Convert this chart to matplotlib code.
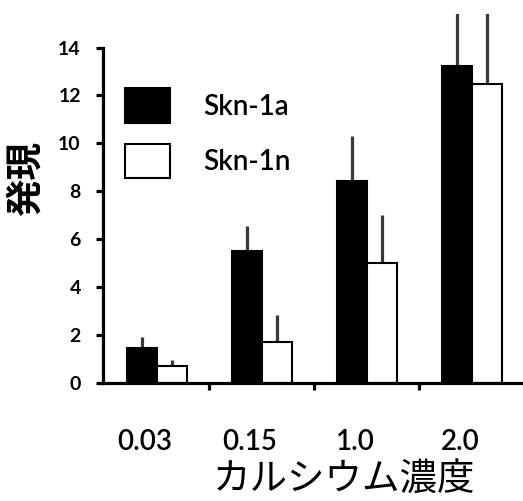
import numpy as np
import matplotlib
matplotlib.use("Agg")
import matplotlib.pyplot as plt
import matplotlib.transforms as mtransforms

plt.rcParams["font.family"] = ["Lato", "Noto Sans CJK JP", "DejaVu Sans"]

# データ
concentrations = ["0.03", "0.15", "1.0", "2.0"]
skn1a = [1.45, 5.49, 8.44, 13.22]
skn1a_err = [0.46, 1.07, 1.89, 3.0]
skn1n = [0.70, 1.73, 5.00, 12.48]
skn1n_err = [0.24, 1.11, 2.02, 4.0]
y_ticks = [0, 2, 4, 6, 8, 10, 12, 14]

fig = plt.figure(figsize=(5.23, 5.01), dpi=100)
ax = fig.add_axes([0.197, 0.2355, 0.803, 0.7365])

x = np.arange(len(concentrations))
w = 0.286
err_kw = dict(fmt="none", ecolor="#3a3a3a", elinewidth=2.3, capsize=0, zorder=1)

ax.bar(x - w / 2, skn1a, w, color="black", edgecolor="black", linewidth=1.5,
       label="Skn-1a", zorder=2)
ax.bar(x + w / 2, skn1n, w, color="white", edgecolor="black", linewidth=1.5,
       label="Skn-1n", zorder=2)
ax.errorbar(x - w / 2, skn1a, yerr=[np.zeros(4), skn1a_err], **err_kw)
ax.errorbar(x + w / 2, skn1n, yerr=[np.zeros(4), skn1n_err], **err_kw)

ax.set_xlim(-0.514, 3.486)
ax.set_ylim(0, 15.4)
ax.spines[["top", "right"]].set_visible(False)
ax.spines["left"].set_bounds(0, 14)
ax.spines["left"].set_linewidth(2.3)
ax.spines["bottom"].set_linewidth(2.3)

ax.set_yticks(y_ticks)
ax.set_yticklabels([str(v) for v in y_ticks], fontsize=14, fontweight="bold")
ax.tick_params(axis="y", direction="out", length=5, width=2.3, pad=11)

ax.set_xticks(x)
ax.set_xticklabels(concentrations, fontsize=20, fontweight=600)
ax.tick_params(axis="x", which="major", length=0, pad=33)
ax.set_xticks(x[:-1] + 0.5, minor=True)
ax.tick_params(axis="x", which="minor", direction="out", length=5, width=2.3)
shift = mtransforms.ScaledTranslation(-12 / 100, 0, fig.dpi_scale_trans)
for lbl in ax.get_xticklabels():
    lbl.set_transform(lbl.get_transform() + shift)

ax.set_xlabel("カルシウム濃度", fontsize=27, family=["Noto Sans CJK JP"])
ax.xaxis.set_label_coords(0.575, -0.207)
ax.set_ylabel("発現", fontsize=27, fontweight="bold", family=["Noto Sans CJK JP"])
ax.yaxis.set_label_coords(-0.138, 0.555)

ax.legend(loc="upper left", bbox_to_anchor=(125 / 523, 1 - 88 / 501),
          bbox_transform=fig.transFigure, frameon=False,
          prop={"size": 20, "weight": 600},
          handlelength=1.62, handleheight=1.55, handletextpad=1.2,
          labelspacing=0.75, borderpad=0, borderaxespad=0)

plt.savefig("out.png", dpi=100)
plt.close()
